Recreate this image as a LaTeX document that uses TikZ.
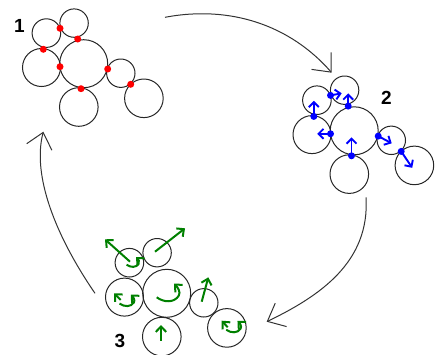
\documentclass[tikz,border=0pt]{standalone}
\usepackage{fontspec}
\setsansfont{Liberation Sans}
\usetikzlibrary{arrows.meta}
\definecolor{dgreen}{RGB}{0,128,0}
\newcommand\clusterdiscs{%
  \node[disc,minimum size=28.6pt] (A) at (-37.3,-30.6) {};
  \node[disc,minimum size=28.4pt] (B) at (-9.6,-40.6) {};
  \node[disc,minimum size=38pt]   (C) at (-42.2,3.8) {};
  \node[disc,minimum size=48pt]   (D) at (0,0) {};
  \node[disc,minimum size=38.6pt] (E) at (-4.9,43.3) {};
  \node[disc,minimum size=28.4pt] (F) at (37.1,9.5) {};
  \node[disc,minimum size=38.6pt] (G) at (60.2,34.6) {};
}
\newcommand\clusterpoints[1]{%
  \node[#1] (p1) at (-23.7,-35.4) {};
  \node[#1] (p2) at (-6,-24.7) {};
  \node[#1] (p3) at (-40.4,-14.4) {};
  \node[#1] (p4) at (-23.7,3) {};
  \node[#1] (p5) at (-2.7,25) {};
  \node[#1] (p6) at (24,5.3) {};
  \node[#1] (p7) at (47,20.6) {};
}
\begin{document}
\begin{tikzpicture}[x=1pt,y=-1pt,
  disc/.style={circle,draw=black!85,line width=1pt,inner sep=0pt},
  rdot/.style={circle,fill=red,inner sep=0pt,minimum size=7pt},
  bdot/.style={circle,fill=blue,inner sep=0pt,minimum size=7pt},
  cyc/.style={draw=black!80,line width=1pt,-{Straight Barb[length=15pt,width=26pt]}},
  barrow/.style={draw=blue,line width=1.9pt,-{Straight Barb[length=5pt,width=10pt]}},
  garrow/.style={draw=dgreen,line width=2pt,-{Straight Barb[length=5.5pt,width=10.5pt]}},
  lbl/.style={font=\sffamily\bfseries\fontsize{19}{19}\selectfont,inner sep=0pt},
  rothook/.pic={\draw[garrow] (-11.5,4.5) .. controls (-4,10) and (6,10) .. (10.5,3) .. controls (13,-1) and (9,-6) .. (5.8,-9.1);}
]
\useasboundingbox (0,0) rectangle (435,354);

% cycle arrows
\coordinate (s1) at (165,17.3);  \coordinate (e1) at (331.7,72.7);
\coordinate (s2) at (366,197.3); \coordinate (e2) at (266.7,321.7);
\coordinate (s3) at (95,293.3);  \coordinate (e3) at (43.3,131.7);
\draw[cyc] (s1) .. controls (230,5) and (290,25) .. (e1);
\draw[cyc] (s2) .. controls (370,262) and (320,296) .. (e2);
\draw[cyc] (s3) .. controls (55,235) and (32,175) .. (e3);

% cluster 1
\begin{scope}[shift={(83.7,63.7)},name prefix=k1-]
  \clusterdiscs
  \clusterpoints{rdot}
\end{scope}
\node[lbl] (n1) at (19.5,25.8) {1};

% cluster 2
\begin{scope}[shift={(354.2,130.8)},name prefix=k2-]
  \clusterdiscs
  \clusterpoints{bdot}
  \coordinate (t1) at (-12.5,-37.5);
  \coordinate (t2) at (-6,-37.5);
  \coordinate (t3) at (-40.4,-30);
  \coordinate (t4) at (-37,3);
  \coordinate (t5) at (-2.7,6.5);
  \coordinate (t6) at (37.5,12.5);
  \coordinate (t7) at (58,37);
  \draw[barrow] (p1.center) -- (t1);
  \draw[barrow] (p2.center) -- (t2);
  \draw[barrow] (p3.center) -- (t3);
  \draw[barrow] (p4.center) -- (t4);
  \draw[barrow] (p5.center) -- (t5);
  \draw[barrow] (p6.center) -- (t6);
  \draw[barrow] (p7.center) -- (t7);
\end{scope}
\node[lbl] (n2) at (386.3,97.5) {2};

% cluster 3
\begin{scope}[shift={(166.7,293.3)},name prefix=k3-]
  \clusterdiscs
  \coordinate (a0) at (-36.7,-31.6); \coordinate (a1) at (-61.7,-54);
  \coordinate (b0) at (-11.7,-41.6); \coordinate (b1) at (18.3,-65);
  \coordinate (c0) at (-46,6.7);     \coordinate (c1) at (-52.7,0);
  \coordinate (e0) at (-5.7,47.4);   \coordinate (e1) at (-5.7,31.7);
  \coordinate (f0) at (35,8.4);      \coordinate (f1) at (41.6,-16);
  \coordinate (g0) at (61,34);       \coordinate (g1) at (55,27.4);
  \draw[garrow] (a0) -- (a1);
  \draw[garrow] (b0) -- (b1);
  \draw[garrow] (c0) -- (c1);
  \draw[garrow] (e0) -- (e1);
  \draw[garrow] (f0) -- (f1);
  \draw[garrow] (g0) -- (g1);
  \pic[scale=1] at (1.5,-0.5) {rothook};
  \pic[scale=0.55] at (-33.8,-31.1) {rothook};
  \pic[scale=0.65] at (-39.7,7.3) {rothook};
  \pic[scale=0.65] at (67,33.5) {rothook};
\end{scope}
\node[lbl] (n3) at (120,340.7) {3};
\end{tikzpicture}
\end{document}
